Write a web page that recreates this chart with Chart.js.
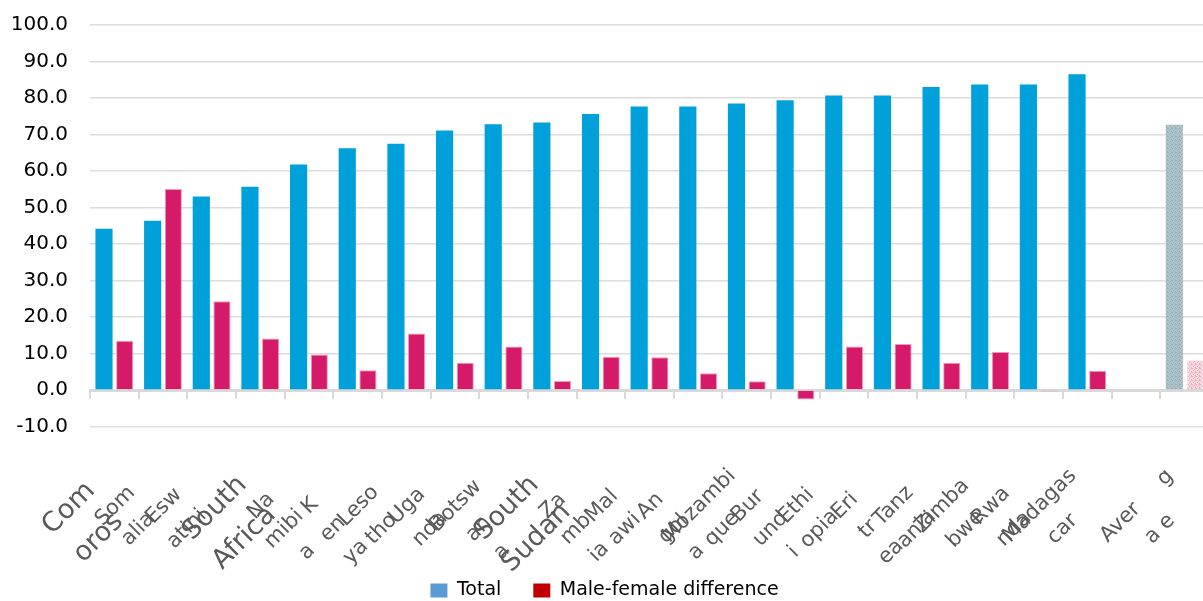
<!DOCTYPE html>
<html>
<head>
<meta charset="utf-8">
<script src="https://cdn.jsdelivr.net/npm/chart.js@4/dist/chart.umd.min.js"></script>
<style>
  html, body { margin: 0; padding: 0; overflow: hidden; background: #fff; }
  #wrap { width: 1209px; height: 601px; }
</style>
</head>
<body>
<div id="wrap"><canvas id="c" width="1209" height="601"></canvas></div>
<script>
// Category labels as they are broken over lines on the axis
const tickLabels = [
  ["Com", "oros"], ["Som", "alia"], ["Esw", "atini"], ["South", "Africa"],
  ["Na", "mibi", "a"], ["K", "en", "ya"], ["Leso", "tho"], ["Uga", "nda"],
  ["Botsw", "an", "a"], ["South", "Sudan"], ["Za", "mb", "ia"], ["Mal", "awi"],
  ["An", "gol", "a"], ["Mozambi", "que"], ["Bur", "und", "i"], ["Ethi", "opia"],
  ["Eri", "tr", "ea"], ["Tanz", "ania"], ["Zimba", "bwe"], ["Rwa", "nda"],
  ["Madagas", "car"], "", ["Aver     g", "a e"]
];
// Labels drawn in the larger type
const largeLabelIndexes = [0, 3, 9];

const totalValues = [44.2, 46.4, 53.0, 55.7, 61.8, 66.2, 67.5, 71.1, 72.8, 73.3, 75.6,
  77.7, 77.7, 78.5, 79.4, 80.7, 80.7, 83.0, 83.7, 83.7, 86.5, null, 72.7];
const diffValues = [13.5, 55.1, 24.3, 14.1, 9.7, 5.4, 15.5, 7.5, 11.9, 2.5, 9.1,
  9.0, 4.6, 2.4, -2.6, 11.9, 12.6, 7.5, 10.4, -0.4, 5.3, null, 8.3];

const yTickMin = -10;
const yTickMax = 100;
const yTickStep = 10;

const FONT = "'DejaVu Sans', sans-serif";
const PLOT_BOTTOM = 426.5;   // pixel row of the lowest gridline
const BOTTOM_PAD = -9;

// Small speckled fill used for the average bars
function speckle(base, dot) {
  const cv = document.createElement('canvas');
  cv.width = 4; cv.height = 4;
  const g = cv.getContext('2d');
  g.fillStyle = base; g.fillRect(0, 0, 4, 4);
  g.fillStyle = dot;
  [[0, 0], [2, 1], [1, 2], [3, 3], [3, 0]].forEach(([x, y]) => g.fillRect(x, y, 1, 1));
  return g.createPattern(cv, 'repeat');
}
const avgIndex = tickLabels.length - 1;
const totalAvgFill = speckle('#aec3ca', '#97afb8');
const diffAvgFill = speckle('#f8dbe2', '#efa9b9');

// Rotated category names: lines centred on each other, block set back along the text direction
const LABEL_SHIFT = -90;   // along the text direction from the category centre
const LABEL_GAP = 11;      // from the axis to the top of the first line
const centredLabels = {
  id: 'centredLabels',
  beforeDraw(chart) {
    const scale = chart.scales.x2;
    scale.bottom = chart.height;   // let the names run down beside the legend
    const items = scale.getLabelItems(chart.chartArea);
    const c = Math.SQRT1_2;
    items.forEach((item, i) => {
      const cx = scale.getPixelForTick(i);
      item.options.textAlign = 'center';
      item.options.textBaseline = 'middle';
      item.options.translation = [cx + LABEL_SHIFT * c, scale.top - LABEL_SHIFT * c];
      item.textOffset = LABEL_GAP + item.font.size * 0.55;
    });
  }
};

new Chart(document.getElementById('c'), {
  type: 'bar',
  data: {
    labels: tickLabels,
    datasets: [
      {
        label: 'Total',
        data: totalValues,
        backgroundColor: ctx => ctx.dataIndex === avgIndex ? totalAvgFill : '#00a1db',
        borderWidth: 0,
        categoryPercentage: 0.85,
        barPercentage: 0.83
      },
      {
        label: 'Male-female difference',
        data: diffValues,
        backgroundColor: ctx => ctx.dataIndex === avgIndex ? diffAvgFill : '#d51a69',
        borderColor: ctx => ctx.dataIndex === avgIndex ? 'rgba(0,0,0,0)' : '#ef9dbd',
        borderWidth: 1,
        categoryPercentage: 0.85,
        barPercentage: 0.83
      }
    ]
  },
  plugins: [centredLabels],
  options: {
    responsive: false,
    animation: false,
    devicePixelRatio: 1,
    layout: { padding: { top: 25, left: 0, right: 0, bottom: BOTTOM_PAD } },
    plugins: {
      tooltip: { enabled: false },
      legend: {
        position: 'bottom',
        labels: {
          boxWidth: 17,
          boxHeight: 14,
          padding: 32,
          color: '#000',
          font: { family: FONT, size: 19 },
          generateLabels: () => [
            { text: 'Total', fillStyle: '#5b9bd5', strokeStyle: '#5b9bd5', lineWidth: 0, datasetIndex: 0 },
            { text: 'Male-female difference', fillStyle: '#c00000', strokeStyle: '#c00000', lineWidth: 0, datasetIndex: 1 }
          ]
        }
      }
    },
    scales: {
      y: {
        min: yTickMin,
        max: yTickMax,
        ticks: {
          stepSize: yTickStep,
          padding: 22,
          color: '#000',
          font: { family: FONT, size: 20 },
          callback: v => v.toFixed(1)
        },
        grid: { color: '#dcdcdc', lineWidth: 1.5, drawTicks: false },
        border: { display: false },
        afterFit: s => { s.width = 90; s.paddingTop = 0; s.paddingBottom = 0; }
      },
      // axis line through zero with tick marks between categories
      x: {
        position: { y: 0 },
        offset: true,
        ticks: { display: false },
        grid: { offset: true, drawOnChartArea: false, drawTicks: true, tickLength: 7, color: '#d9d9d9', lineWidth: 2 },
        border: { display: true, color: '#d9d9d9', width: 3 }
      },
      // category names along the bottom
      x2: {
        type: 'category',
        position: 'bottom',
        offset: true,
        grid: { display: false, drawTicks: false },
        border: { display: false },
        ticks: {
          autoSkip: false,
          minRotation: 45,
          maxRotation: 45,
          padding: 0,
          color: '#595959',
          font: ctx => ({ family: FONT, size: largeLabelIndexes.includes(ctx.index) ? 27 : 21, lineHeight: 1.55 })
        },
        afterFit: s => {
          const legendH = s.chart.legend ? s.chart.legend.height : 0;
          s.height = s.chart.height - BOTTOM_PAD - PLOT_BOTTOM - legendH;
          s.paddingLeft = 0;
          s.paddingRight = 0;
        }
      }
    }
  }
});
</script>
</body>
</html>
